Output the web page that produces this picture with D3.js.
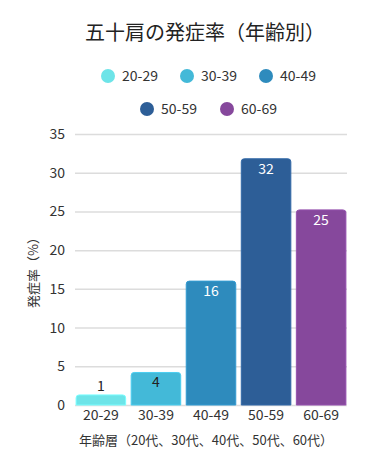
<!DOCTYPE html>
<html>
<head>
<meta charset="utf-8">
<script src="https://cdn.jsdelivr.net/npm/d3@7"></script>
<style>
  body { margin: 0; background: #fff; }
  svg { display: block; font-family: "Noto Sans CJK JP", "Noto Sans", sans-serif; }
</style>
</head>
<body>
<div class="chart"></div>
<script>
'use strict';
(function() {
  // Data
  var AGES = ['20-29', '30-39', '40-49', '50-59', '60-69'];
  var RATES = [1.3, 4.2, 16, 31.8, 25.2];
  var Y_TICKS = [0, 5, 10, 15, 20, 25, 30, 35];
  var COLORS = ['#6de4e8', '#43b9d8', '#2e8bbd', '#2d5e97', '#86489c'];
  var TEXT_COLORS = ['#222', '#222', '#fff', '#fff', '#fff'];

  var TITLE = '五十肩の発症率（年齢別）';
  var X_TITLE = '年齢層（20代、30代、40代、50代、60代）';
  var Y_TITLE = '発症率（%）';

  var w = 373;
  var h = 474;
  var margin = {top: 134, right: 26, bottom: 69, left: 75};

  var data = AGES.map(function(a, i) {
    return {age: a, rate: RATES[i], color: COLORS[i], text: TEXT_COLORS[i]};
  });

  var svg = d3.select('.chart')
    .append('svg')
    .attr('width', w)
    .attr('height', h);

  var xScale = d3.scaleBand()
    .domain(AGES)
    .range([margin.left, w - margin.right])
    .paddingInner(0.1)
    .paddingOuter(0.02);

  var yScale = d3.scaleLinear()
    .domain([0, 35])
    .range([h - margin.bottom, margin.top]);

  // Title
  svg.append('text')
    .attr('x', 205)
    .attr('y', 40)
    .attr('text-anchor', 'middle')
    .attr('font-size', 20)
    .attr('fill', '#222')
    .text(TITLE);

  // Legend
  var legendPos = [[108, 76], [187, 76], [266, 76], [147, 109], [227, 109]];
  var legend = svg.append('g').selectAll('g')
    .data(data)
    .enter()
    .append('g')
    .attr('transform', function(d, i) {
      return 'translate(' + legendPos[i][0] + ',' + legendPos[i][1] + ')';
    });
  legend.append('circle')
    .attr('r', 7)
    .attr('fill', function(d) { return d.color; });
  legend.append('text')
    .attr('x', 14)
    .attr('dy', '0.35em')
    .attr('font-size', 14)
    .attr('fill', '#333')
    .text(function(d) { return d.age; });

  // Y axis with grid
  var yAxis = d3.axisLeft(yScale)
    .tickValues(Y_TICKS)
    .tickSizeInner(-(w - margin.left - margin.right))
    .tickSizeOuter(0)
    .tickPadding(10);

  var yg = svg.append('g')
    .attr('transform', 'translate(' + margin.left + ',0)')
    .call(yAxis);
  yg.select('.domain').remove();
  yg.selectAll('line').attr('stroke', '#dcdcdc').attr('stroke-width', 1.5);
  yg.selectAll('text')
    .attr('font-size', 14)
    .attr('fill', '#333')
    .attr('font-family', '"Noto Sans CJK JP", sans-serif');

  // Bars with rounded tops
  var r = 3;
  var barPath = function(d) {
    var x0 = xScale(d.age);
    var x1 = x0 + xScale.bandwidth();
    var y0 = yScale(0);
    var y1 = yScale(d.rate);
    var rr = Math.min(r, (y0 - y1) / 2);
    return 'M' + x0 + ',' + y0 +
      'V' + (y1 + rr) +
      'Q' + x0 + ',' + y1 + ' ' + (x0 + rr) + ',' + y1 +
      'H' + (x1 - rr) +
      'Q' + x1 + ',' + y1 + ' ' + x1 + ',' + (y1 + rr) +
      'V' + y0 + 'Z';
  };

  svg.append('g')
    .selectAll('path')
    .data(data)
    .enter()
    .append('path')
    .attr('d', barPath)
    .attr('fill', function(d) { return d.color; })
    .attr('stroke', function(d) { return d3.color(d.color).brighter(0.3); })
    .attr('stroke-width', 1);

  // Value labels
  var fmt = d3.format('.0f');
  svg.append('g')
    .selectAll('text')
    .data(data)
    .enter()
    .append('text')
    .attr('x', function(d) { return xScale(d.age) + xScale.bandwidth() / 2; })
    .attr('y', function(d) {
      var top = yScale(d.rate);
      return (yScale(0) - top) < 24 ? top - 9 : top + 10;
    })
    .attr('dy', '0.35em')
    .attr('text-anchor', 'middle')
    .attr('font-size', 14)
    .attr('fill', function(d) { return d.text; })
    .text(function(d) { return fmt(d.rate); });

  // X axis
  var xAxis = d3.axisBottom(xScale).tickSize(0).tickPadding(5);
  var xg = svg.append('g')
    .attr('transform', 'translate(0,' + yScale(0) + ')')
    .call(xAxis);
  xg.select('.domain').remove();
  xg.selectAll('text')
    .attr('font-size', 14)
    .attr('fill', '#333')
    .attr('font-family', '"Noto Sans CJK JP", sans-serif');

  // Axis titles
  svg.append('text')
    .attr('x', 206)
    .attr('y', 445)
    .attr('text-anchor', 'middle')
    .attr('font-size', 13)
    .attr('fill', '#333')
    .text(X_TITLE);

  svg.append('text')
    .attr('transform', 'translate(38,' + ((yScale(0) + yScale(35)) / 2) + ') rotate(-90)')
    .attr('text-anchor', 'middle')
    .attr('font-size', 13)
    .attr('fill', '#333')
    .text(Y_TITLE);
})();
</script>
</body>
</html>
